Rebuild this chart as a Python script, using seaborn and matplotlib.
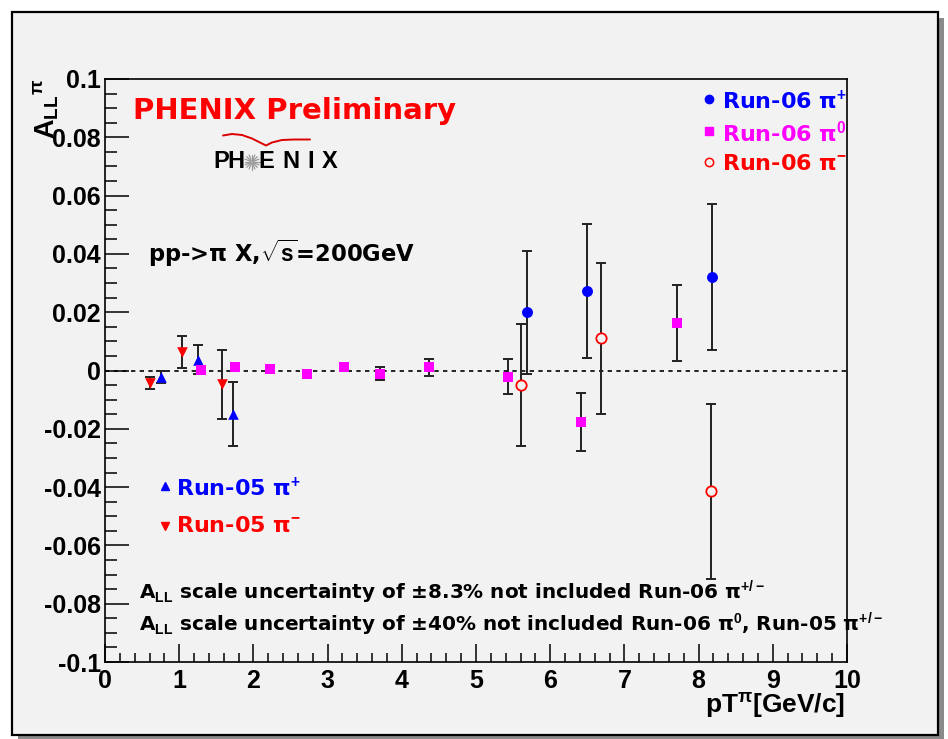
import numpy as np
import pandas as pd
import matplotlib
matplotlib.use("Agg")
import matplotlib.pyplot as plt
import seaborn as sns
from matplotlib.patches import Rectangle
from matplotlib.lines import Line2D
from matplotlib.ticker import FixedLocator, FixedFormatter, MultipleLocator

# ---------------- data ----------------
run05_pip_x = [0.75, 1.25, 1.73]
run05_pip_y = [-0.0023, 0.0037, -0.0148]
run05_pip_e = [0.002, 0.005, 0.011]

run05_pim_x = [0.61, 1.04, 1.58]
run05_pim_y = [-0.0043, 0.0063, -0.0048]
run05_pim_e = [0.002, 0.0055, 0.012]

run06_pi0_x = [1.30, 1.75, 2.23, 2.72, 3.22, 3.71, 4.37, 5.43, 6.42, 7.71]
run06_pi0_y = [0.0002, 0.0011, 0.0006, -0.0011, 0.0011, -0.0011, 0.0011, -0.0021, -0.0177, 0.0162]
run06_pi0_e = [0.001, 0.001, 0.001, 0.001, 0.0012, 0.0022, 0.0029, 0.006, 0.010, 0.013]

run06_pip_x = [5.69, 6.50, 8.18]
run06_pip_y = [0.0199, 0.0272, 0.032]
run06_pip_e = [0.021, 0.023, 0.025]

run06_pim_x = [5.60, 6.69, 8.17]
run06_pim_y = [-0.0049, 0.011, -0.0414]
run06_pim_e = [0.021, 0.026, 0.030]

y_ticks = [0.1, 0.08, 0.06, 0.04, 0.02, 0.0, -0.02, -0.04, -0.06, -0.08, -0.1]
y_tick_labels = ["0.1", "0.08", "0.06", "0.04", "0.02", "0", "-0.02", "-0.04", "-0.06", "-0.08", "-0.1"]
x_ticks = [0, 1, 2, 3, 4, 5, 6, 7, 8, 9, 10]
x_tick_labels = ["0", "1", "2", "3", "4", "5", "6", "7", "8", "9", "10"]

# ---------------- style ----------------
sns.set_style("ticks")
plt.rcParams['font.family'] = ['Liberation Sans', 'DejaVu Sans']
plt.rcParams['font.weight'] = 'bold'
plt.rcParams['text.color'] = 'black'
plt.rcParams['axes.labelcolor'] = 'black'
plt.rcParams['xtick.color'] = 'black'
plt.rcParams['ytick.color'] = 'black'
plt.rcParams['mathtext.fontset'] = 'custom'
plt.rcParams['mathtext.rm'] = 'Liberation Sans:bold'
plt.rcParams['mathtext.bf'] = 'Liberation Sans:bold'
plt.rcParams['mathtext.it'] = 'Liberation Sans:bold'
plt.rcParams['mathtext.sf'] = 'Liberation Sans:bold'

BG = '#f2f2f2'
BLUE = '#0000ff'
MAG = '#ff00ff'
RED = '#ff0000'

W, H = 948, 739
fig = plt.figure(figsize=(9.48, 7.39), dpi=100, facecolor='white')


def fx(x):
    return x / W


def fy(y):
    return 1 - y / H


# canvas with shadow and frame
fig.patches.append(Rectangle((fx(18), fy(739)), (944 - 18) / W, (739 - 18) / H,
                             transform=fig.transFigure, facecolor='#8a8a8a',
                             edgecolor='none', zorder=-10))
fig.patches.append(Rectangle((fx(12), fy(735)), (938 - 12) / W, (735 - 12) / H,
                             transform=fig.transFigure, facecolor=BG,
                             edgecolor='black', linewidth=1.6, zorder=-9))

ax = fig.add_axes([fx(105), fy(662), (847 - 105) / W, (662 - 79) / H])
ax.set_facecolor(BG)
ax.set_xlim(0, 10)
ax.set_ylim(-0.1, 0.1)

# zero line
ax.axhline(0, color='black', lw=1.2, ls=(0, (2.6, 2.6)), zorder=1)


def series(x, y, e, marker, color, edge, s, lw=0.0):
    df = pd.DataFrame({'pt': x, 'all': y, 'err': e})
    ax.errorbar(df['pt'], df['all'], yerr=df['err'], fmt='none', ecolor='#222222',
                elinewidth=1.4, capsize=3.5, capthick=1.4, zorder=2)
    sns.scatterplot(data=df, x='pt', y='all', marker=marker, color=color,
                    edgecolor=edge, linewidth=lw, s=s, ax=ax, zorder=3, legend=False)


series(run05_pip_x, run05_pip_y, run05_pip_e, '^', BLUE, BLUE, 58)
series(run05_pim_x, run05_pim_y, run05_pim_e, 'v', RED, RED, 58)
series(run06_pi0_x, run06_pi0_y, run06_pi0_e, 's', MAG, MAG, 55)
series(run06_pip_x, run06_pip_y, run06_pip_e, 'o', BLUE, BLUE, 62)
series(run06_pim_x, run06_pim_y, run06_pim_e, 'o', BG, RED, 55, lw=1.3)

ax.set_xlabel('')
ax.set_ylabel('')

# ticks
ax.yaxis.set_major_locator(FixedLocator(y_ticks))
ax.yaxis.set_major_formatter(FixedFormatter(y_tick_labels))
ax.yaxis.set_minor_locator(MultipleLocator(0.005))
ax.xaxis.set_major_locator(FixedLocator(x_ticks))
ax.xaxis.set_major_formatter(FixedFormatter(x_tick_labels))
ax.xaxis.set_minor_locator(MultipleLocator(0.2))
ax.tick_params(axis='both', which='both', direction='in', top=False, right=False,
               color='black', width=1.1, labelcolor='black')
ax.tick_params(axis='y', which='major', length=17, pad=3, labelsize=18)
ax.tick_params(axis='y', which='minor', length=8.5)
ax.tick_params(axis='x', which='major', length=13, pad=5, labelsize=18)
ax.tick_params(axis='x', which='minor', length=6.5)
for lab in ax.get_xticklabels() + ax.get_yticklabels():
    lab.set_fontweight('bold')
for sp in ax.spines.values():
    sp.set_linewidth(1.2)
    sp.set_color('black')

# axis titles
fig.text(fx(46), fy(79), r"A$_{\rm LL}{}^{\pi}$", rotation=90, ha='center', va='top',
         fontsize=19.5, fontweight='bold')
fig.text(fx(845), fy(706), r"pT$^{\pi}$[GeV/c]", ha='right', va='center',
         fontsize=19, fontweight='bold')

# PHENIX preliminary
fig.text(fx(133), fy(111), "PHENIX Preliminary", ha='left', va='center', color=RED,
         fontsize=21, fontweight='bold', family=['DejaVu Sans'])

# logo letters
for ch, xc in zip(["P", "H", "E", "N", "I", "X"], [221, 236, 266, 291, 311, 330]):
    fig.text(fx(xc), fy(162), ch, ha='center', va='center', color='black',
             fontsize=17, fontweight='bold')
# star
cx, cy = 252, 162
for ang in np.arange(0, 360, 22.5):
    r1, r2 = 1.5, 7.5
    a = np.deg2rad(ang)
    fig.add_artist(Line2D([fx(cx + r1 * np.cos(a)), fx(cx + r2 * np.cos(a))],
                          [fy(cy + r1 * np.sin(a)), fy(cy + r2 * np.sin(a))],
                          transform=fig.transFigure, color='#999999', lw=0.9))
arc_x = [223, 232, 242, 252, 260, 266, 272, 282, 294, 310]
arc_y = [135.5, 134, 135, 138.5, 142.5, 145.5, 142.5, 140, 139.5, 139.5]
fig.add_artist(Line2D([fx(v) for v in arc_x], [fy(v) for v in arc_y],
                      transform=fig.transFigure, color='#dd0000', lw=1.4))

# reaction text
fig.text(fx(148), fy(253), r"pp->π X,$\sqrt{\rm s}$=200GeV", ha='left', va='center',
         fontsize=16.3, fontweight='bold', family=['DejaVu Sans'])

# legend top right
leg_fam = ['DejaVu Sans']
fig.add_artist(Line2D([fx(709)], [fy(99)], transform=fig.transFigure, marker='o',
                      ms=6, color=BLUE, mec=BLUE, ls='none'))
fig.add_artist(Line2D([fx(709)], [fy(131)], transform=fig.transFigure, marker='s',
                      ms=6, color=MAG, mec=MAG, ls='none'))
fig.add_artist(Line2D([fx(709)], [fy(162)], transform=fig.transFigure, marker='o',
                      ms=6, mfc=BG, mec=RED, mew=1.1, ls='none'))
fig.text(fx(722), fy(101), r"Run-06 π$^{+}$", ha='left', va='center', color=BLUE,
         fontsize=16, fontweight='bold', family=leg_fam)
fig.text(fx(722), fy(133), r"Run-06 π$^{0}$", ha='left', va='center', color=MAG,
         fontsize=16, fontweight='bold', family=leg_fam)
fig.text(fx(722), fy(164), r"Run-06 π$^{-}$", ha='left', va='center', color=RED,
         fontsize=16, fontweight='bold', family=leg_fam)

# legend bottom left
fig.add_artist(Line2D([fx(165)], [fy(486)], transform=fig.transFigure, marker='^',
                      ms=6, color=BLUE, ls='none'))
fig.add_artist(Line2D([fx(165)], [fy(526)], transform=fig.transFigure, marker='v',
                      ms=6, color=RED, ls='none'))
fig.text(fx(176), fy(488), r"Run-05 π$^{+}$", ha='left', va='center', color=BLUE,
         fontsize=16, fontweight='bold', family=leg_fam)
fig.text(fx(176), fy(526), r"Run-05 π$^{-}$", ha='left', va='center', color=RED,
         fontsize=16, fontweight='bold', family=leg_fam)

# scale uncertainty notes
fig.text(fx(139), fy(592), r"A$_{\rm LL}$ scale uncertainty of ±8.3% not included Run-06 π$^{+/-}$",
         ha='left', va='center', fontsize=14.4, fontweight='bold', family=['DejaVu Sans'])
fig.text(fx(139), fy(624), r"A$_{\rm LL}$ scale uncertainty of ±40% not included Run-06 π$^{0}$, Run-05 π$^{+/-}$",
         ha='left', va='center', fontsize=14.4, fontweight='bold', family=['DejaVu Sans'])

fig.savefig("out.png", dpi=100, facecolor='white')
